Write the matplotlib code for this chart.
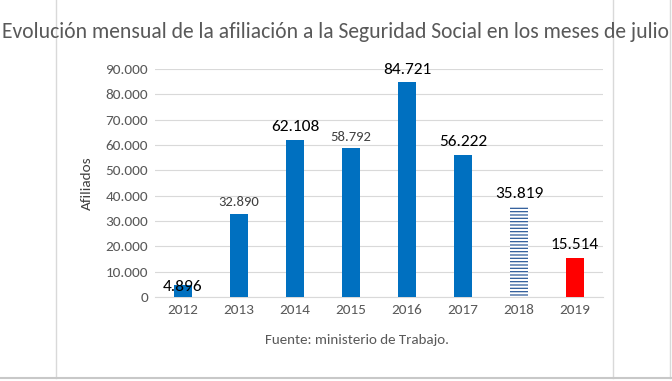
import matplotlib
matplotlib.use("Agg")
import matplotlib.pyplot as plt
from matplotlib.lines import Line2D

plt.rcParams['font.family'] = ['Carlito', 'DejaVu Sans']
plt.rcParams['hatch.linewidth'] = 0.9

years = ['2012', '2013', '2014', '2015', '2016', '2017', '2018', '2019']
afiliados = [4896, 32890, 62108, 58792, 84721, 56222, 35819, 15514]
labels = ['4.896', '32.890', '62.108', '58.792', '84.721', '56.222', '35.819', '15.514']
label_sizes = [12.5, 10.5, 12.5, 10.5, 12.5, 12.5, 12.5, 12.5]
label_colors = ['black', '#404040', 'black', '#404040', 'black', 'black', 'black', 'black']
yticks = [0, 10000, 20000, 30000, 40000, 50000, 60000, 70000, 80000, 90000]
ytick_labels = ['0', '10.000', '20.000', '30.000', '40.000', '50.000',
                '60.000', '70.000', '80.000', '90.000']

blue = '#0070C0'
gray_txt = '#595959'
grid_col = '#D9D9D9'

fig = plt.figure(figsize=(6.72, 3.81), dpi=100)
ax = fig.add_axes([155 / 672, 1 - 297 / 381, 448 / 672, 228 / 381])

x = list(range(len(years)))
bars = ax.bar(x, afiliados, width=0.33, color=blue, zorder=3)
# 2018 bar: horizontal stripes, 2019 bar: red
bars[6].set_facecolor('white')
bars[6].set_edgecolor('#2F5C9A')
bars[6].set_hatch('-----')
bars[6].set_linewidth(0)
bars[7].set_facecolor('#FF0000')

for i, (v, lab) in enumerate(zip(afiliados, labels)):
    dy = -7 if i == 0 else 4
    ax.annotate(lab, (i, v), xytext=(0, dy), textcoords='offset points',
                ha='center', va='bottom', fontsize=label_sizes[i],
                color=label_colors[i], zorder=4)

ax.set_xlim(-0.5, len(years) - 0.5)
ax.set_ylim(0, 90000)
ax.set_xticks(x)
ax.set_xticklabels(years, fontsize=11, color=gray_txt)
ax.set_yticks(yticks)
ax.set_yticklabels(ytick_labels, fontsize=11, color=gray_txt)
ax.tick_params(length=0, pad=5)
ax.grid(axis='y', color=grid_col, linewidth=0.8, zorder=0)
for s in ['top', 'right', 'left']:
    ax.spines[s].set_visible(False)
ax.spines['bottom'].set_color(grid_col)

ax.set_ylabel('Afiliados', fontsize=11, color='#404040', labelpad=9)

fig.text(336 / 672, 1 - 32 / 381, 'Evolución mensual de la afiliación a la Seguridad Social en los meses de julio',
         ha='center', va='center', fontsize=15.6, color=gray_txt)
fig.text(357 / 672, 1 - 340 / 381, 'Fuente: ministerio de Trabajo.',
         ha='center', va='center', fontsize=10.8, color=gray_txt)

# frame lines of the surrounding document
for xx in [56, 613, 670]:
    fig.add_artist(Line2D([xx / 672, xx / 672], [1 - 378 / 381, 1], color=grid_col,
                          linewidth=1, zorder=0))
fig.add_artist(Line2D([0, 1], [1 - 378 / 381, 1 - 378 / 381], color='#C8C8C8',
                      linewidth=1.5, zorder=0))

fig.savefig('out.png', dpi=100)
